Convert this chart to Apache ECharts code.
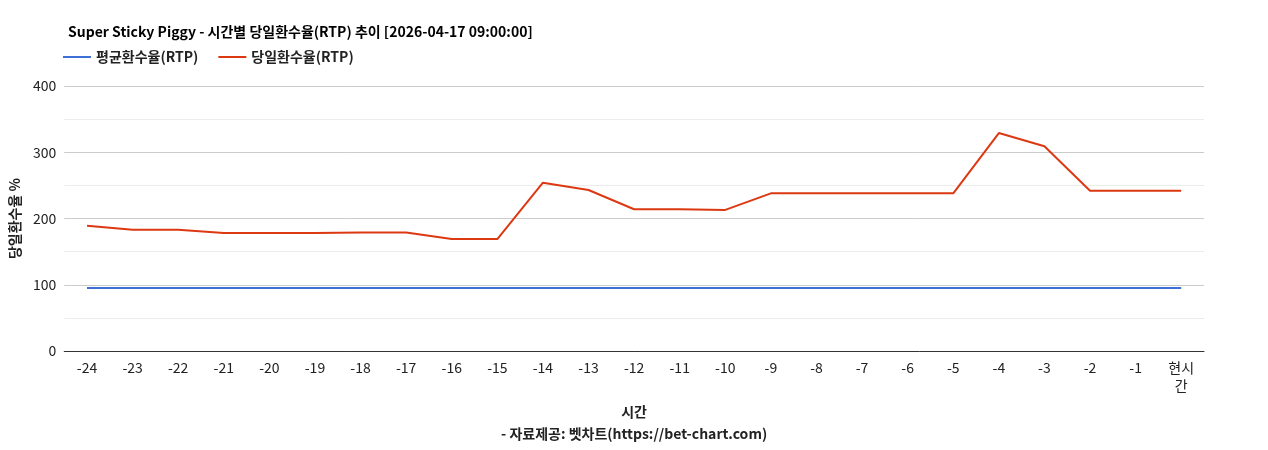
<!DOCTYPE html>
<html>
<head>
<meta charset="utf-8">
<script src="https://cdn.jsdelivr.net/npm/echarts@6/dist/echarts.min.js"></script>
<style>
  html, body { margin: 0; padding: 0; background: #fff; }
  #chart { width: 1268px; height: 450px; }
</style>
</head>
<body>
<div id="chart"></div>
<script>
  const hours = ["-24", "-23", "-22", "-21", "-20", "-19", "-18", "-17", "-16", "-15", "-14", "-13",
    "-12", "-11", "-10", "-9", "-8", "-7", "-6", "-5", "-4", "-3", "-2", "-1", "현시간"];
  const avgRtp = [95, 95, 95, 95, 95, 95, 95, 95, 95, 95, 95, 95, 95, 95, 95, 95, 95, 95, 95, 95, 95, 95, 95, 95, 95];
  const dayRtp = [189, 183, 183, 178, 178, 178, 179, 179, 169, 169, 254, 243, 214, 214, 213, 238, 238, 238, 238, 238, 329, 309, 242, 242, 242];
  const font = "'Noto Sans CJK KR', 'Noto Sans', sans-serif";

  const chart = echarts.init(document.getElementById("chart"));
  chart.setOption({
    animation: false,
    textStyle: { fontFamily: font },
    title: {
      text: "Super Sticky Piggy - 시간별 당일환수율(RTP) 추이 [2026-04-17 09:00:00]",
      left: 63, top: 20,
      textStyle: { fontSize: 14, fontWeight: "bold", color: "#000", fontFamily: font }
    },
    legend: {
      left: 58, top: 45, itemWidth: 28, itemHeight: 2, itemGap: 20,
      icon: "rect",
      textStyle: { fontSize: 14, fontWeight: "bold", color: "#222" },
      data: ["평균환수율(RTP)", "당일환수율(RTP)"]
    },
    grid: { left: 63, right: 64, top: 86, bottom: 87 },
    xAxis: {
      type: "category",
      data: hours,
      name: "시간\n- 자료제공: 벳차트(https://bet-chart.com)",
      nameLocation: "middle",
      nameGap: 50,
      nameTextStyle: { fontSize: 14, fontWeight: "bold", color: "#222", lineHeight: 22 },
      axisLine: { lineStyle: { color: "#333" } },
      axisTick: { show: false },
      axisLabel: {
        color: "#222", fontSize: 14, margin: 8, interval: 0, lineHeight: 18,
        formatter: function (v) { return v.length > 2 && v[0] !== "-" ? "현시\n간" : v; }
      }
    },
    yAxis: {
      type: "value",
      min: 0, max: 400, interval: 100,
      name: "당일환수율 %",
      nameLocation: "middle",
      nameGap: 20,
      nameTextStyle: { fontSize: 14, fontWeight: "bold", color: "#222" },
      axisLabel: { color: "#222", fontSize: 14 },
      splitLine: { lineStyle: { color: "#ccc" } },
      minorTick: { show: false, splitNumber: 2 },
      minorSplitLine: { show: true, lineStyle: { color: "#ececec" } }
    },
    series: [
      {
        name: "평균환수율(RTP)", type: "line", data: avgRtp, symbol: "none",
        color: "#3d6fd6", lineStyle: { width: 2, color: "#3d6fd6" }
      },
      {
        name: "당일환수율(RTP)", type: "line", data: dayRtp, symbol: "none",
        color: "#dc3912", lineStyle: { width: 2, color: "#dc3912" }
      }
    ]
  });
</script>
</body>
</html>
